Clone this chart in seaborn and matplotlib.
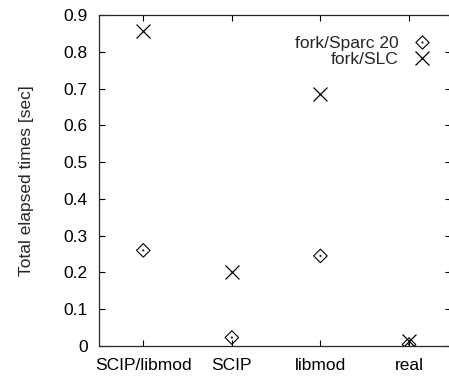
import pandas as pd
import seaborn as sns
import matplotlib.pyplot as plt
from matplotlib.path import Path
from matplotlib.lines import Line2D

categories = ["SCIP/libmod", "SCIP", "libmod", "real"]
sparc20 = [0.260, 0.023, 0.245, 0.004]
slc = [0.857, 0.202, 0.685, 0.014]
yticks = [0, 0.1, 0.2, 0.3, 0.4, 0.5, 0.6, 0.7, 0.8, 0.9]

sns.set_style("ticks")
plt.rcParams["font.family"] = ["Liberation Sans", "DejaVu Sans"]
FS = 12.5

# gnuplot style diamond with a dot in the middle
verts = [(0, 1), (1, 0), (0, -1), (-1, 0), (0, 1),
         (-0.06, 0.06), (0.06, 0.06), (0.06, -0.06), (-0.06, -0.06), (-0.06, 0.06)]
codes = [Path.MOVETO, Path.LINETO, Path.LINETO, Path.LINETO, Path.CLOSEPOLY,
         Path.MOVETO, Path.LINETO, Path.LINETO, Path.LINETO, Path.CLOSEPOLY]
diamond = Path(verts, codes)

df = pd.DataFrame({"cat": categories, "sparc": sparc20, "slc": slc})

fig = plt.figure(figsize=(4.49, 3.76), dpi=100)
ax = fig.add_axes([99 / 449, 30 / 376, 352 / 449, 331 / 376])

sns.scatterplot(data=df, x="cat", y="sparc", ax=ax, marker=diamond, s=95,
                facecolor="none", edgecolor="black", linewidth=0.8, legend=False)
sns.scatterplot(data=df, x="cat", y="slc", ax=ax, marker="x", s=100,
                color="black", linewidth=0.9, legend=False)

ax.set_xlim(-0.5, 3.474)
ax.set_ylim(0, 0.9)
ax.set_yticks(yticks)
ax.set_yticklabels(["0"] + [f"{v:.1f}" for v in yticks[1:]])
ax.set_xlabel("")
ax.set_ylabel("Total elapsed times [sec]", fontsize=FS, labelpad=21)
ax.tick_params(direction="in", top=True, right=True, labelsize=FS,
               length=4, width=0.8, colors="black")
ax.tick_params(axis="x", pad=9)
ax.tick_params(axis="y", pad=8)
for s in ax.spines.values():
    s.set_linewidth(0.9)
ax.spines["right"].set_visible(False)

handles = [
    Line2D([], [], linestyle="none", marker=diamond, markersize=9.5,
           markerfacecolor="none", markeredgecolor="black", markeredgewidth=0.8),
    Line2D([], [], linestyle="none", marker="x", markersize=10,
           color="black", markeredgewidth=0.9),
]
ax.legend(handles, ["fork/Sparc 20", "fork/SLC"], loc="upper right",
          frameon=False, markerfirst=False, fontsize=FS, handletextpad=0.73,
          handlelength=1.2, labelspacing=0.05, borderaxespad=0.0,
          bbox_to_anchor=(0.966, 0.958))

plt.savefig("out.png", dpi=100)
